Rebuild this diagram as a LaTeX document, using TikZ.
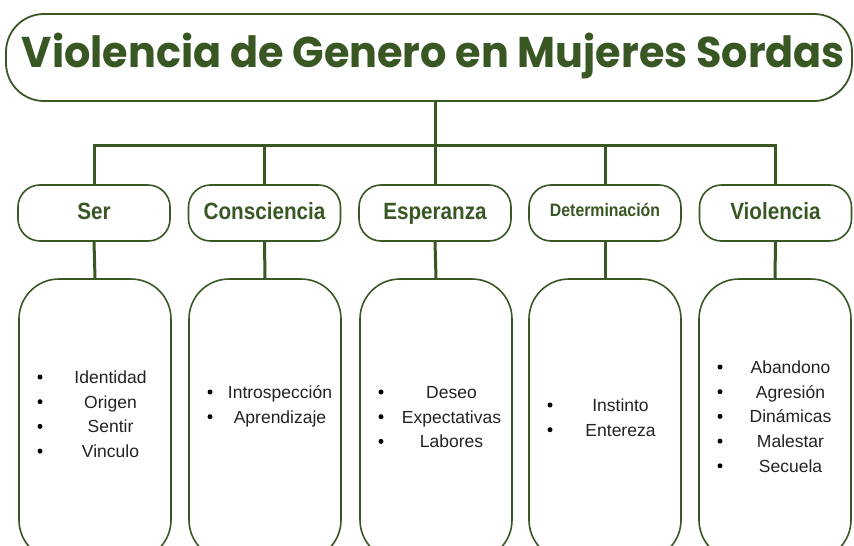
\documentclass[tikz,border=0pt]{standalone}
\usepackage{fontspec}
\setmainfont{Liberation Sans}
\newfontfamily\titlefont{Poppins}
\newfontfamily\labfont{Liberation Sans}[FakeStretch=0.88]
\definecolor{dg}{RGB}{56,87,35}
\definecolor{txt}{RGB}{34,34,34}
\begin{document}
\begin{tikzpicture}[x=1pt,y=-1pt,
  conn/.style={draw=dg, line width=3pt},
  titlebox/.style={draw=dg, line width=1.8pt, rounded corners=38pt, minimum width=846pt, minimum height=87pt, inner sep=0pt, text=dg, text height=30pt, text depth=11pt},
  headbox/.style={draw=dg, line width=1.6pt, rounded corners=22pt, minimum width=152pt, minimum height=56pt, inner sep=0pt, text=dg, text height=16.5pt, text depth=4pt, font=\labfont\bfseries\fontsize{23.5}{23.5}\selectfont},
  listbox/.style={draw=dg, line width=1.6pt, rounded corners=40pt, minimum width=152pt, minimum height=281pt, inner sep=0pt},
  item/.style={anchor=base, inner sep=0pt, text=txt, font=\fontsize{17.5}{17.5}\selectfont},
  dot/.style={circle, fill=black, inner sep=0pt, minimum size=5pt}
]
\useasboundingbox (0,0) rectangle (854,546);
\clip (0,0) rectangle (854,546);
\fill[white] (0,0) rectangle (854,546);

\node[titlebox] (title) at (429,57.5) {\hspace{9pt}\resizebox{823pt}{\height}{\titlefont\bfseries\fontsize{43}{43}\selectfont Violencia de Genero en Mujeres Sordas}};

\node[headbox] (b1) at (94,213) {Ser};
\node[headbox] (b2) at (264.5,213) {Consciencia};
\node[headbox] (b3) at (435,213) {Esperanza};
\node[headbox, text height=13pt, text depth=6.5pt, font=\labfont\bfseries\fontsize{18}{18}\selectfont] (b4) at (605,213) {Determinación};
\node[headbox] (b5) at (775.5,213) {Violencia};

\node[listbox] (c1) at (95,419.5) {};
\node[listbox] (c2) at (265,419.5) {};
\node[listbox] (c3) at (436,419.5) {};
\node[listbox] (c4) at (605,419.5) {};
\node[listbox] (c5) at (775,419.5) {};

\coordinate (bar) at (436,145);
\draw[conn] (b3.north |- title.south) -- (b3.north |- bar);
\draw[conn, line cap=rect] (b1.north |- bar) -- (b5.north |- bar);
\foreach \k in {1,...,5} {
  \draw[conn] (b\k.north |- bar) -- (b\k.north);
  \draw[conn] (b\k.south) -- (c\k.north);
}

% Ser
\foreach \t [count=\i from 0] in {Identidad,Origen,Sentir,Vinculo} {
  \node[dot] (sd\i) at (40, 377+24.7*\i) {};
  \node[item] (st\i) at (110.5, 383.5+24.7*\i) {\t};
}
% Consciencia
\foreach \t [count=\i from 0] in {Introspección,Aprendizaje} {
  \node[dot] (cd\i) at (210, 392+24.7*\i) {};
  \node[item] (ct\i) at (280, 398.5+24.7*\i) {\t};
}
% Esperanza
\foreach \t [count=\i from 0] in {Deseo,Expectativas,Labores} {
  \node[dot] (ed\i) at (381, 392+24.7*\i) {};
  \node[item] (et\i) at (451.5, 398.5+24.7*\i) {\t};
}
% Determinacion
\foreach \t [count=\i from 0] in {Instinto,Entereza} {
  \node[dot] (dd\i) at (550, 405+24.7*\i) {};
  \node[item] (dt\i) at (620.5, 411.5+24.7*\i) {\t};
}
% Violencia
\foreach \t [count=\i from 0] in {Abandono,Agresión,Dinámicas,Malestar,Secuela} {
  \node[dot] (vd\i) at (720, 367+24.7*\i) {};
  \node[item] (vt\i) at (790.5, 373.5+24.7*\i) {\t};
}
\end{tikzpicture}
\end{document}
